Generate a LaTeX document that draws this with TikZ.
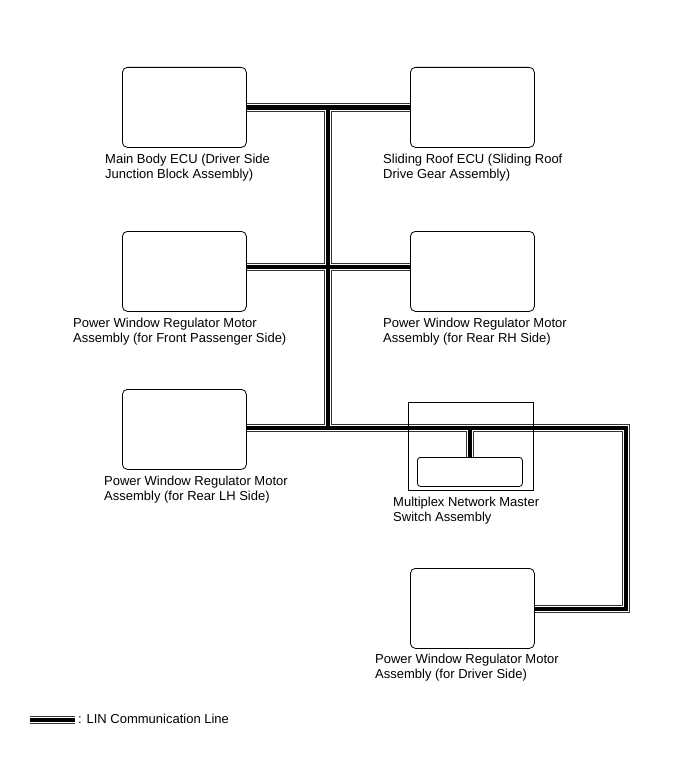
\documentclass[tikz,border=0pt]{standalone}
\usepackage{fontspec}
\setmainfont{Liberation Sans}
\begin{document}
\begin{tikzpicture}[x=1pt, y=-1pt,
	ecu/.style={draw, line width=0.8pt, rounded corners=5pt, inner sep=0pt, anchor=north west,
		minimum width=124pt, minimum height=80pt},
	lbl/.style={anchor=base west, align=left, inner sep=0pt, font=\fontsize{13}{15}\selectfont}]
	
	\useasboundingbox (0,0) rectangle (691,757);
	
	\node[ecu] (mainecu) at (122,67) {};
	\node[ecu] (roofecu) at (410,67) {};
	\node[ecu] (pwfront) at (122,231) {};
	\node[ecu] (pwrearrh) at (410,231) {};
	\node[ecu] (pwrearlh) at (122,389) {};
	\node[ecu] (pwdriver) at (410,568) {};
	\node[ecu, minimum width=105pt, minimum height=29pt, rounded corners=3pt] (masterin) at (417,457) {};
	
	\coordinate (jtop) at (328,107);
	\coordinate (jmid) at (328,267);
	\coordinate (jbot) at (328,428);
	\coordinate (jturn) at (626,609);
	\coordinate (jsw) at (masterin.north |- jbot);
	\coordinate (lg1) at (30,720);
	\coordinate (lg2) at (75,720);
	
	% LIN lines: outline, gap, core
	\foreach \w/\c in {8.6/black!80, 6.8/white, 4.4/black}{
		\draw[line width=\w pt, \c]
		(mainecu.east) -- (roofecu.west)
		(jtop) -- (jbot)
		(pwfront.east |- jmid) -- (pwrearrh.west |- jmid)
		(pwrearlh.east |- jbot) -- (jbot -| jturn) -- (jturn) -- (pwdriver.east |- jturn)
		(jsw) -- (masterin.north)
		(lg1) -- (lg2);
	}
	
	\node[draw, line width=0.8pt, inner sep=0pt, anchor=north west, minimum width=125pt, minimum height=88pt]
	(master) at (408,402) {};
	
	% labels (base = last line)
	\node[lbl] at (105,178) {Main Body ECU (Driver Side\\Junction Block Assembly)};
	\node[lbl] at (383,178) {Sliding Roof ECU (Sliding Roof\\Drive Gear Assembly)};
	\node[lbl] at (73,342) {Power Window Regulator Motor\\Assembly (for Front Passenger Side)};
	\node[lbl] at (383,342) {Power Window Regulator Motor\\Assembly (for Rear RH Side)};
	\node[lbl] at (104,500) {Power Window Regulator Motor\\Assembly (for Rear LH Side)};
	\node[lbl] at (393,521) {Multiplex Network Master\\Switch Assembly};
	\node[lbl] at (375,678) {Power Window Regulator Motor\\Assembly (for Driver Side)};
	\node[lbl] at (78,723) {: LIN Communication Line};
	
\end{tikzpicture}
\end{document}
